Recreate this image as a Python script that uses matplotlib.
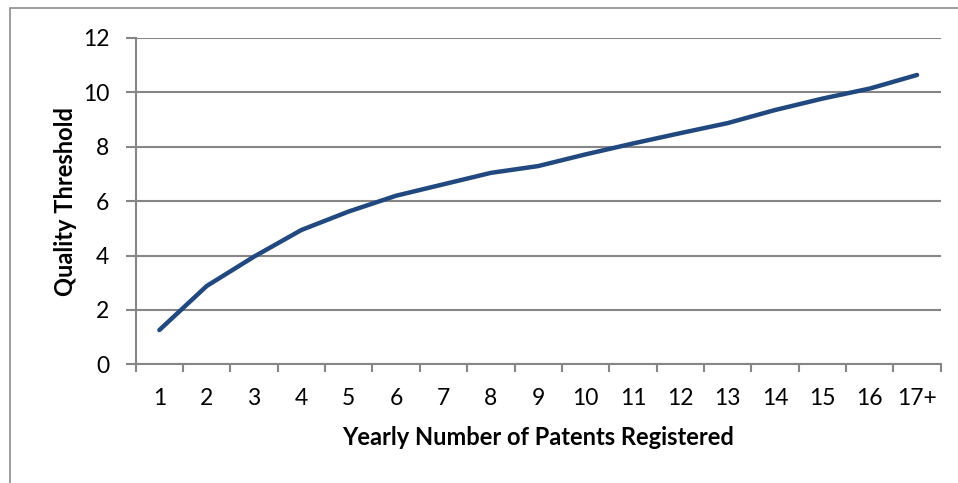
import matplotlib
matplotlib.use("Agg")
import matplotlib.pyplot as plt
from matplotlib.patches import Rectangle

categories = ["1", "2", "3", "4", "5", "6", "7", "8", "9", "10",
              "11", "12", "13", "14", "15", "16", "17+"]
quality_threshold = [1.26, 2.88, 3.96, 4.94, 5.62, 6.20, 6.62, 7.04, 7.29,
                     7.72, 8.12, 8.50, 8.87, 9.35, 9.77, 10.14, 10.64]
y_ticks = [0, 2, 4, 6, 8, 10, 12]

W, H = 958, 483
fig = plt.figure(figsize=(W / 100, H / 100), dpi=100)
fig.patch.set_facecolor("white")

# outer chart-area frame (runs off the right and bottom edges)
fig.patches.append(Rectangle((10 / W, -0.1), 1.2, 1 - 8 / H + 0.1,
                             transform=fig.transFigure, fill=False,
                             edgecolor="#8c8c8c", linewidth=1.2, zorder=0))

left, right = 135.7 / W, 940.7 / W
bottom, top = 1 - 364.3 / H, 1 - 38 / H
ax = fig.add_axes([left, bottom, right - left, top - bottom])

grid_color = "#868686"
x = list(range(len(categories)))
ax.plot(x, quality_threshold, color="#22497f", linewidth=3.2,
        solid_capstyle="round", solid_joinstyle="round", zorder=3)

ax.set_xlim(-0.5, len(categories) - 0.5)
ax.set_ylim(0, 12)
ax.set_yticks(y_ticks)
ax.set_yticklabels([str(v) for v in y_ticks])
ax.yaxis.grid(True, color=grid_color, linewidth=1.5)
ax.set_axisbelow(True)

# category labels at centres, tick marks at category boundaries
ax.set_xticks(x)
ax.set_xticklabels(categories)
ax.set_xticks([i - 0.5 for i in range(len(categories) + 1)], minor=True)
ax.tick_params(axis="x", which="major", length=0, pad=17)
ax.tick_params(axis="x", which="minor", length=6, width=1.5, color=grid_color)
ax.tick_params(axis="y", length=7, width=1.5, color=grid_color, pad=12)

for s in ["top", "right"]:
    ax.spines[s].set_visible(False)
for s in ["left", "bottom"]:
    ax.spines[s].set_color(grid_color)
    ax.spines[s].set_linewidth(1.5)

font = "Lato"
for lab in ax.get_xticklabels() + ax.get_yticklabels():
    lab.set_fontfamily(font)
    lab.set_fontsize(16.5)
    lab.set_color("black")

ax.set_xlabel("Yearly Number of Patents Registered", fontfamily=font,
              fontweight="bold", fontsize=17, labelpad=12)
ax.set_ylabel("Quality Threshold", fontfamily=font,
              fontweight="bold", fontsize=17, labelpad=4)

fig.savefig("out.png", dpi=100, facecolor="white")
